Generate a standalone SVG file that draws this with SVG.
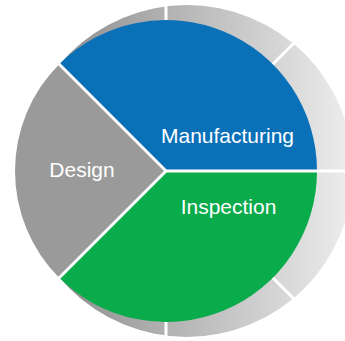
<svg xmlns="http://www.w3.org/2000/svg" width="345" height="341" viewBox="0 0 345 341">
<defs>
<linearGradient id="ringGrad" gradientUnits="userSpaceOnUse" x1="60" y1="0" x2="345" y2="0">
<stop offset="0" stop-color="#8e8e8e"/>
<stop offset="0.4" stop-color="#b4b4b4"/>
<stop offset="1" stop-color="#ebebeb"/>
</linearGradient>
</defs>
<style>
.sep{stroke:#ffffff;stroke-width:3;fill:none}
.lbl{font-family:"Liberation Sans",Arial,sans-serif;font-size:21px;fill:#ffffff;text-anchor:middle}
</style>
<rect width="345" height="341" fill="#ffffff"/>
<g id="ring">
<circle cx="187" cy="171" r="166" fill="url(#ringGrad)"/>
</g>
<g id="ring-separators">
<line class="sep" x1="166" y1="171" x2="166" y2="-5"/>
<line class="sep" x1="166" y1="171" x2="300" y2="37"/>
<line class="sep" x1="166" y1="171" x2="360" y2="171"/>
<line class="sep" x1="166" y1="171" x2="300" y2="305"/>
<line class="sep" x1="166" y1="171" x2="166" y2="350"/>
</g>
<g id="Manufacturing">
<path d="M166,171 L59.23,64.23 A151,151 0 0 1 317,171 Z" fill="#0a71b9"/>
<text class="lbl" x="227.5" y="143">Manufacturing</text>
</g>
<g id="Inspection">
<path d="M166,171 L317,171 A151,151 0 0 1 59.23,277.77 Z" fill="#0aab4b"/>
<text class="lbl" x="228.5" y="214">Inspection</text>
</g>
<g id="Design">
<path d="M166,171 L59.23,277.77 A151,151 0 0 1 59.23,64.23 Z" fill="#9a9a9a"/>
<text class="lbl" x="82" y="177">Design</text>
</g>
<g id="connectors">
<line class="sep" x1="166" y1="171" x2="58" y2="63"/>
<line class="sep" x1="166" y1="171" x2="58" y2="279"/>
<line class="sep" x1="166" y1="171" x2="318" y2="171"/>
</g>
</svg>
